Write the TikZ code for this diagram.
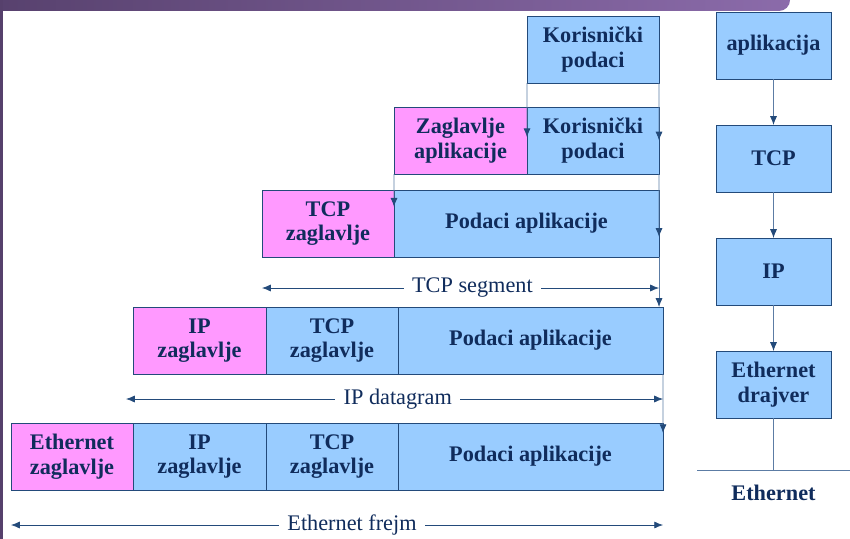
\documentclass[tikz,border=0pt]{standalone}
\usepackage{fontspec}
\setmainfont{Liberation Serif}
\usetikzlibrary{arrows.meta,positioning,calc}

\definecolor{plava}{HTML}{99CCFF}
\definecolor{roza}{HTML}{FF99FF}
\definecolor{okvir}{HTML}{234A7A}
\definecolor{veza}{HTML}{5C7CA4}
\definecolor{tekst}{HTML}{102C5C}
\definecolor{ljubT}{HTML}{56406C}
\definecolor{ljubS}{HTML}{8B6BAA}

\tikzset{
  blok/.style={draw=okvir, fill=plava, line width=0.8pt, minimum height=2.01cm,
    inner sep=0pt, outer sep=0pt, align=center, text=tekst, anchor=north west,
    font=\bfseries\fontsize{19}{21}\selectfont},
  zaglavlje/.style={blok, fill=roza},
  sloj/.style={blok, minimum width=3.45cm},
  tok/.style={draw=veza, line width=0.7pt, -{Latex[length=7.5pt,width=6pt,color=okvir]}},
  raspon/.style={draw=okvir, line width=0.6pt,
    {Latex[length=7.5pt,width=6pt]}-{Latex[length=7.5pt,width=6pt]}},
  natpis/.style={fill=white, text=tekst, font=\fontsize{19}{21}\selectfont,
    inner xsep=7pt, inner ysep=1pt}
}

\begin{document}
\begin{tikzpicture}[x=0.03cm, y=-0.03cm]
\useasboundingbox (0,0) rectangle (850,539);

% okvir slajda
\shade[left color=ljubT, right color=ljubS, rounded corners=0.33cm] (-30,-30) rectangle (790,11);
\fill[ljubT] (0,0) rectangle (3,539);

% red 1
\node[blok, minimum width=3.96cm] (kor1) at (527,16) {Korisnički\\podaci};

% red 2
\node[zaglavlje, minimum width=3.99cm] (zapl) at (394,107) {Zaglavlje\\aplikacije};
\node[blok, minimum width=3.96cm, right=0pt of zapl] (kor2) {Korisnički\\podaci};

% red 3
\node[zaglavlje, minimum width=3.96cm] (tcpz3) at (262,190) {TCP\\zaglavlje};
\node[blok, minimum width=7.95cm, right=0pt of tcpz3] (pod3) {Podaci aplikacije};

% red 4
\node[zaglavlje, minimum width=3.99cm] (ipz4) at (133,307) {IP\\zaglavlje};
\node[blok, minimum width=3.96cm, right=0pt of ipz4] (tcpz4) {TCP\\zaglavlje};
\node[blok, minimum width=7.95cm, right=0pt of tcpz4] (pod4) {Podaci aplikacije};

% red 5
\node[zaglavlje, minimum width=3.66cm] (ethz5) at (11,423) {Ethernet\\zaglavlje};
\node[blok, minimum width=3.99cm, right=0pt of ethz5] (ipz5) {IP\\zaglavlje};
\node[blok, minimum width=3.96cm, right=0pt of ipz5] (tcpz5) {TCP\\zaglavlje};
\node[blok, minimum width=7.95cm, right=0pt of tcpz5] (pod5) {Podaci aplikacije};

% enkapsulacija
\draw[tok] (kor1.south west) -- ($(kor2.north west)!0.45!(kor2.south west)$);
\draw[tok] (kor1.south east) -- (kor2.east);
\draw[tok] (zapl.south west) -- ($(pod3.north west)!0.25!(pod3.south west)$);
\draw[tok] (kor2.south east) -- ($(pod3.north east)!0.7!(pod3.south east)$);
\draw[tok] (pod3.south east) -- (pod3.south east |- pod4.north);
\draw[tok] (pod4.south east) -- ($(pod5.north east)!0.15!(pod5.south east)$);

% duzine
\draw[raspon] ($(tcpz3.south west)+(0,31)$) -- ($(pod3.south east)+(0,31)$)
  node[natpis, pos=0.53] (tcpseg) {TCP segment};
\draw[raspon] ($(ipz4.south west)+(-7,25)$) -- ($(pod4.south east)+(0,25)$)
  node[natpis, pos=0.506] (ipdat) {IP datagram};
\draw[raspon] ($(ethz5.south west)+(0,35)$) -- ($(pod5.south east)+(0,35)$)
  node[natpis, pos=0.523] (ethfr) {Ethernet frejm};

% slojevi
\node[sloj] (apl) at (716,12) {aplikacija};
\node[sloj, below=1.38cm of apl] (tcp) {TCP};
\node[sloj, below=1.38cm of tcp] (ip) {IP};
\node[sloj, below=1.38cm of ip] (drv) {Ethernet\\drajver};
\draw[tok] (apl) -- (tcp);
\draw[tok] (tcp) -- (ip);
\draw[tok] (ip) -- (drv);

\coordinate (mrezaL) at (697,470);
\coordinate (mrezaD) at (850,470);
\draw[veza, line width=0.7pt] (mrezaL) -- (mrezaD);
\draw[veza, line width=0.7pt] (drv.south) -- (drv.south |- mrezaL);
\node[text=tekst, font=\bfseries\fontsize{19}{21}\selectfont] (eth) at (drv.south |- 0,493) {Ethernet};
\end{tikzpicture}
\end{document}
